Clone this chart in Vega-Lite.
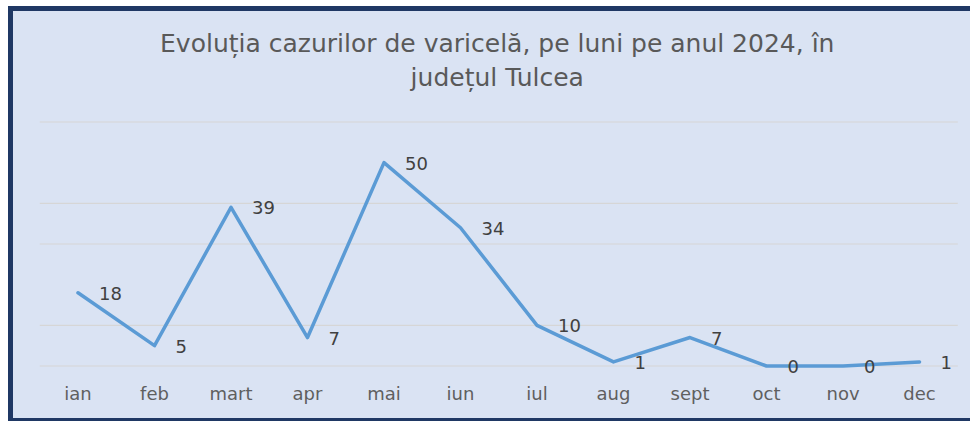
{
  "$schema": "https://vega.github.io/schema/vega-lite/v6.json",
  "autosize": "none",
  "width": 959.5,
  "height": 412,
  "padding": {"left": 10.5, "top": 8.5, "right": 0, "bottom": 0.5},
  "background": "white",
  "title": {
    "text": ["Evoluția cazurilor de varicelă, pe luni pe anul 2024, în", "județul Tulcea"],
    "anchor": "middle",
    "frame": "group",
    "offset": -82,
    "dx": 7,
    "font": "DejaVu Sans",
    "fontSize": 25,
    "fontWeight": "normal",
    "color": "#595959",
    "lineHeight": 34
  },
  "config": {
    "view": {"fill": "#dae3f3", "stroke": "#1f3864", "strokeWidth": 5, "strokeDash": [959.5, 412, 1380]}
  },
  "datasets": {
    "cases": [
      {"luna": "ian", "cazuri": 18},
      {"luna": "feb", "cazuri": 5},
      {"luna": "mart", "cazuri": 39},
      {"luna": "apr", "cazuri": 7},
      {"luna": "mai", "cazuri": 50},
      {"luna": "iun", "cazuri": 34},
      {"luna": "iul", "cazuri": 10},
      {"luna": "aug", "cazuri": 1},
      {"luna": "sept", "cazuri": 7},
      {"luna": "oct", "cazuri": 0},
      {"luna": "nov", "cazuri": 0},
      {"luna": "dec", "cazuri": 1}
    ],
    "grid": [{"g": 0}, {"g": 10}, {"g": 30}, {"g": 40}, {"g": 60}]
  },
  "layer": [
    {
      "data": {"name": "grid"},
      "mark": {"type": "rule", "color": "#d6d6d6", "strokeWidth": 1.2},
      "encoding": {
        "y": {"field": "g", "type": "quantitative", "scale": {"domain": [-13.4, 87.91], "nice": false, "zero": false}, "axis": null},
        "x": {"datum": "ian", "type": "ordinal", "bandPosition": 0,
              "scale": {"type": "band", "domain": ["ian","feb","mart","apr","mai","iun","iul","aug","sept","oct","nov","dec"], "paddingInner": 0, "paddingOuter": 0.2712, "align": 0.705},
              "axis": {"title": null, "orient": "bottom", "offset": -26.5, "domain": false, "ticks": false, "tickSize": 0, "labelPadding": 0, "labelBaseline": "middle", "labelFont": "DejaVu Sans", "labelFontSize": 18, "labelColor": "#5f5f5f", "labelAngle": 0, "grid": false, "labelOverlap": false}},
        "x2": {"datum": "dec", "bandPosition": 1}
      }
    },
    {
      "data": {"name": "cases"},
      "mark": {"type": "line", "color": "#5b9bd5", "strokeWidth": 3.5, "strokeJoin": "round", "strokeCap": "round"},
      "encoding": {
        "x": {"field": "luna", "type": "ordinal",
              "scale": {"type": "band", "domain": ["ian","feb","mart","apr","mai","iun","iul","aug","sept","oct","nov","dec"], "paddingInner": 0, "paddingOuter": 0.2712, "align": 0.705},
              "axis": {"title": null, "orient": "bottom", "offset": -26.5, "domain": false, "ticks": false, "tickSize": 0, "labelPadding": 0, "labelBaseline": "middle", "labelFont": "DejaVu Sans", "labelFontSize": 18, "labelColor": "#5f5f5f", "labelAngle": 0, "grid": false, "labelOverlap": false}},
        "y": {"field": "cazuri", "type": "quantitative", "scale": {"domain": [-13.4, 87.91], "nice": false, "zero": false}, "axis": null}
      }
    },
    {
      "data": {"name": "cases"},
      "mark": {"type": "text", "align": "left", "baseline": "middle", "dx": 21, "dy": 2, "font": "DejaVu Sans", "fontSize": 18, "color": "#404040"},
      "encoding": {
        "x": {"field": "luna", "type": "ordinal",
              "scale": {"type": "band", "domain": ["ian","feb","mart","apr","mai","iun","iul","aug","sept","oct","nov","dec"], "paddingInner": 0, "paddingOuter": 0.2712, "align": 0.705},
              "axis": {"title": null, "orient": "bottom", "offset": -26.5, "domain": false, "ticks": false, "tickSize": 0, "labelPadding": 0, "labelBaseline": "middle", "labelFont": "DejaVu Sans", "labelFontSize": 18, "labelColor": "#5f5f5f", "labelAngle": 0, "grid": false, "labelOverlap": false}},
        "y": {"field": "cazuri", "type": "quantitative", "scale": {"domain": [-13.4, 87.91], "nice": false, "zero": false}, "axis": null},
        "text": {"field": "cazuri", "type": "quantitative"}
      }
    }
  ]
}
